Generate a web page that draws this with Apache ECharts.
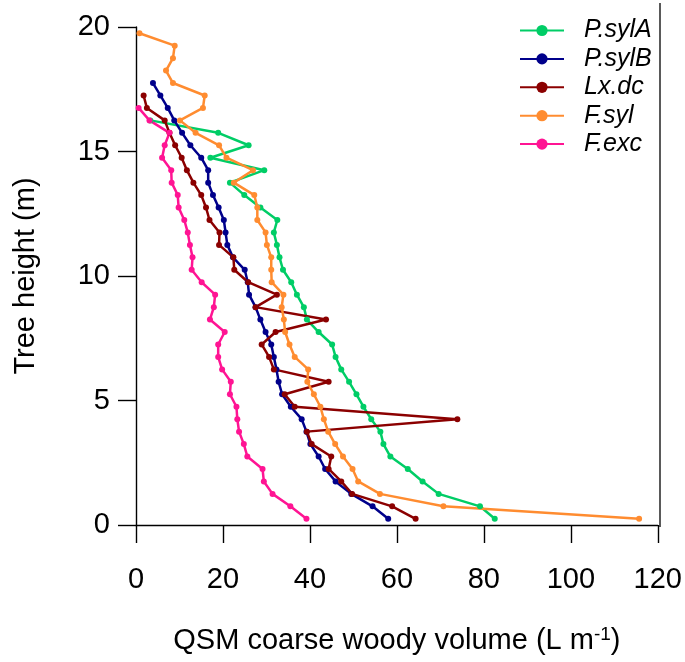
<!DOCTYPE html>
<html>
<head>
<meta charset="utf-8">
<script src="https://cdn.jsdelivr.net/npm/echarts@6/dist/echarts.min.js"></script>
<style>
html,body{margin:0;padding:0;background:#fff;}
#chart{width:685px;height:662px;}
</style>
</head>
<body>
<div id="chart"></div>
<script>
// Heights (m) of each 0.5 m slice, top to bottom
const heights = [19.75,19.25,18.75,18.25,17.75,17.25,16.75,16.25,15.75,15.25,
                 14.75,14.25,13.75,13.25,12.75,12.25,11.75,11.25,10.75,10.25,
                 9.75,9.25,8.75,8.25,7.75,7.25,6.75,6.25,5.75,5.25,
                 4.75,4.25,3.75,3.25,2.75,2.25,1.75,1.25,0.75,0.25];

// Coarse woody volume (L m^-1) per slice, aligned with heights
const pSylA = [null,null,null,null,null,null,null,3.3,18.9,25.9,
               17.1,29.5,21.6,24.9,28.6,32.5,31.7,32.4,33.0,33.8,
               35.7,37.0,38.6,39.3,42.0,45.1,45.9,47.2,49.0,50.7,
               52.3,54.1,56.2,56.9,58.5,62.5,65.9,69.6,79.1,82.5];
const pSylB = [null,null,null,null,3.9,5.6,7.3,8.8,10.6,12.5,
               15.0,16.6,16.6,17.7,19.0,20.2,20.6,21.0,22.3,25.0,
               25.7,26.0,27.5,28.6,29.8,31.1,31.7,32.3,32.8,33.6,
               35.6,38.1,39.2,40.1,42.0,43.5,45.9,49.5,54.4,58.0];
const lxDc  = [null,null,null,null,null,1.75,2.5,6.6,7.7,9.0,
               10.5,11.7,13.2,15.0,16.1,16.9,19.2,19.1,22.4,22.6,
               25.8,32.4,27.5,43.7,32.1,28.9,30.6,31.7,44.3,34.2,
               36.5,73.9,39.3,40.4,44.9,44.3,47.2,49.7,58.9,64.3];
const fSyl  = [0.8,8.9,8.5,6.9,8.5,15.8,15.4,10.1,13.7,19.1,
               20.8,26.9,22.5,27.2,27.9,27.9,29.8,30.1,31.1,31.1,
               31.2,33.9,33.5,34.0,34.3,35.3,36.5,39.6,39.4,40.9,
               42.4,43.2,44.2,45.8,47.6,49.8,51.1,56.1,70.7,115.7];
const fExc  = [null,null,null,null,null,null,0.6,3.1,7.7,6.6,
               6.0,8.1,8.2,9.6,9.8,11.1,11.9,12.4,13.0,12.8,
               15.1,18.2,17.9,17.0,20.4,18.9,18.9,19.8,21.8,21.6,
               23.1,23.3,23.7,24.8,25.6,29.1,29.4,31.4,35.5,39.2];

const seriesNames = ['P.sylA','P.sylB','Lx.dc','F.syl','F.exc'];
const seriesValues = [pSylA, pSylB, lxDc, fSyl, fExc];
const seriesColors = ['#00CD66','#00008B','#8B0000','#FF8C30','#FF1493'];

const xTicks = [0,20,40,60,80,100,120];
const yTicks = [0,5,10,15,20];

const FONT = 'Liberation Sans, Arial, sans-serif';

function pairs(vals){
  const out = [];
  for (let i = 0; i < vals.length; i++) {
    if (vals[i] !== null) out.push([vals[i], heights[i]]);
  }
  return out;
}

const chart = echarts.init(document.getElementById('chart'), null, {renderer:'canvas'});
chart.setOption({
  animation:false,
  backgroundColor:'#ffffff',
  grid:{left:136, right:25, top:27, bottom:137, containLabel:false},
  legend:{
    data:seriesNames,
    orient:'vertical',
    left:519, top:18, padding:0,
    itemWidth:44, itemHeight:14, itemGap:3.4,
    textStyle:{fontFamily:FONT, fontSize:25, fontStyle:'italic', color:'#000', lineHeight:22, padding:[0,0,0,15]}
  },
  xAxis:{
    type:'value', min:xTicks[0], max:xTicks[xTicks.length-1], interval:20,
    axisLine:{onZero:false, lineStyle:{color:'#000', width:1.4}},
    axisTick:{show:true, inside:false, length:18, lineStyle:{color:'#000', width:1.4}},
    axisLabel:{color:'#000', fontFamily:FONT, fontSize:29, margin:40},
    splitLine:{show:false},
    name:'{a|QSM coarse woody volume (L m}{s|-1}{a|)}',
    nameLocation:'middle', nameGap:100,
    nameTextStyle:{rich:{
      a:{fontFamily:FONT, fontSize:29, color:'#000'},
      s:{fontFamily:FONT, fontSize:19, color:'#000', verticalAlign:'top', padding:[0,0,12,0]}
    }}
  },
  yAxis:{
    type:'value', min:yTicks[0], max:yTicks[yTicks.length-1], interval:5,
    axisLine:{onZero:false, lineStyle:{color:'#000', width:1.4}},
    axisTick:{show:true, inside:false, length:18, lineStyle:{color:'#000', width:1.4}},
    axisLabel:{color:'#000', fontFamily:FONT, fontSize:29, margin:26},
    splitLine:{show:false},
    name:'Tree height (m)', nameLocation:'middle', nameGap:96, nameRotate:90,
    nameTextStyle:{fontFamily:FONT, fontSize:29, color:'#000'}
  },
  graphic:[{
    type:'line', shape:{x1:660, y1:3, x2:660, y2:527},
    style:{stroke:'#000', lineWidth:1.3}, silent:true
  }],
  series: seriesNames.map((n,i)=>({
    name:n, type:'line', data:pairs(seriesValues[i]),
    color:seriesColors[i],
    symbol:'circle', symbolSize:6, showSymbol:true,
    lineStyle:{width:2.5, color:seriesColors[i]},
    itemStyle:{color:seriesColors[i]},
    connectNulls:false, clip:false
  }))
});
</script>
</body>
</html>
